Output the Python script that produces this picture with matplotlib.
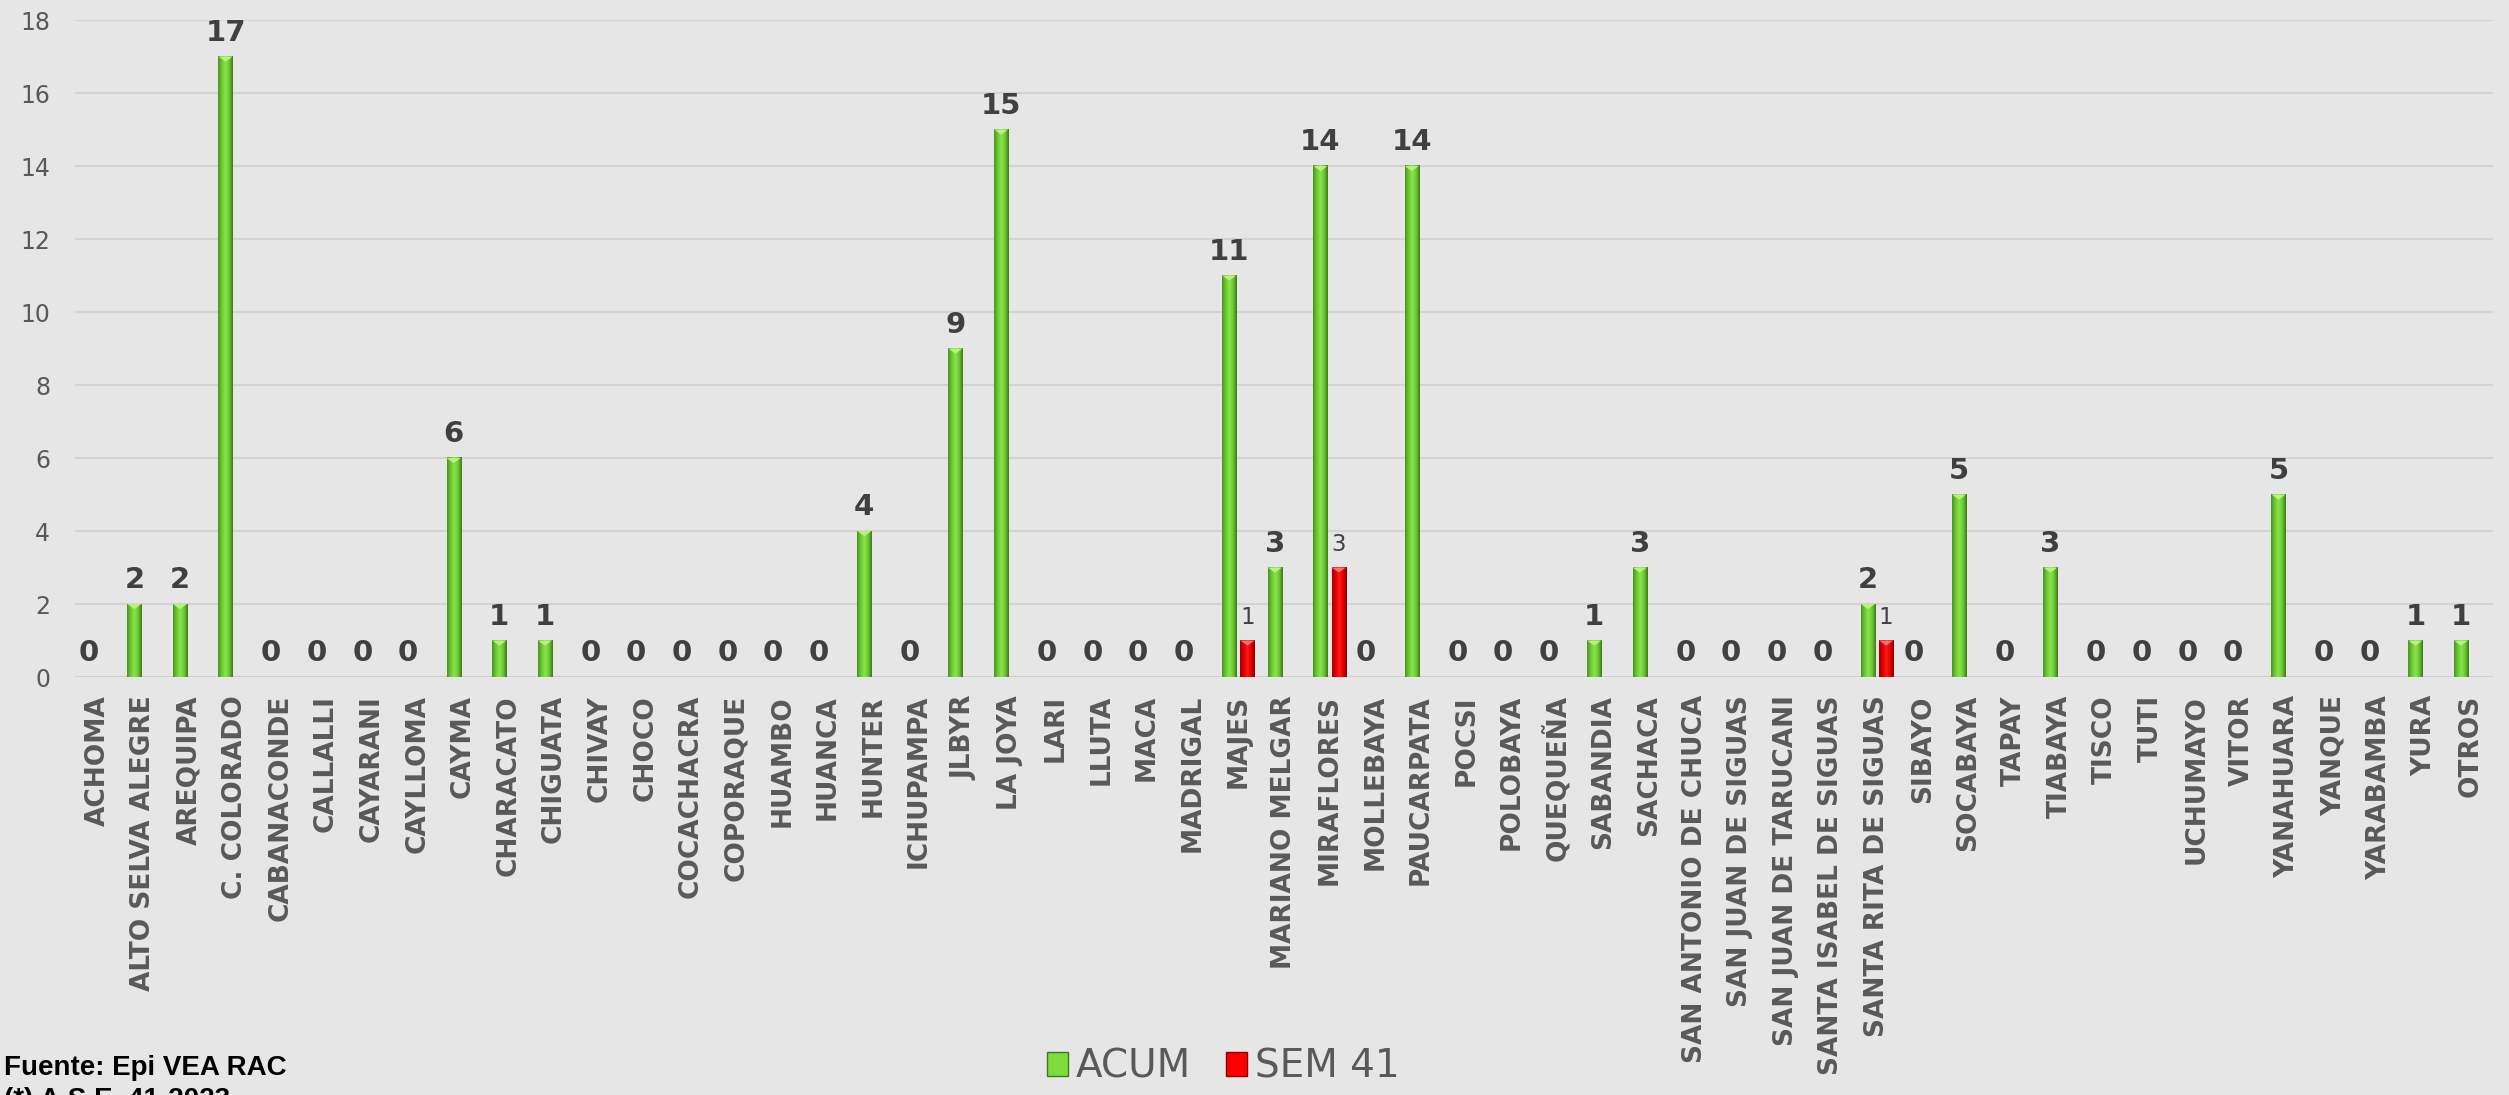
import numpy as np
import matplotlib.pyplot as plt
from matplotlib.colors import LinearSegmentedColormap
from matplotlib.patches import Patch, Polygon

distritos = ["ACHOMA", "ALTO SELVA ALEGRE", "AREQUIPA", "C. COLORADO", "CABANACONDE",
             "CALLALLI", "CAYARANI", "CAYLLOMA", "CAYMA", "CHARACATO", "CHIGUATA",
             "CHIVAY", "CHOCO", "COCACHACRA", "COPORAQUE", "HUAMBO", "HUANCA", "HUNTER",
             "ICHUPAMPA", "JLBYR", "LA JOYA", "LARI", "LLUTA", "MACA", "MADRIGAL", "MAJES",
             "MARIANO MELGAR", "MIRAFLORES", "MOLLEBAYA", "PAUCARPATA", "POCSI", "POLOBAYA",
             "QUEQUEÑA", "SABANDIA", "SACHACA", "SAN ANTONIO DE CHUCA", "SAN JUAN DE SIGUAS",
             "SAN JUAN DE TARUCANI", "SANTA ISABEL DE SIGUAS", "SANTA RITA DE SIGUAS",
             "SIBAYO", "SOCABAYA", "TAPAY", "TIABAYA", "TISCO", "TUTI", "UCHUMAYO", "VITOR",
             "YANAHUARA", "YANQUE", "YARABAMBA", "YURA", "OTROS"]
acum = [0, 2, 2, 17, 0, 0, 0, 0, 6, 1, 1, 0, 0, 0, 0, 0, 0, 4, 0, 9, 15, 0, 0, 0, 0, 11,
        3, 14, 0, 14, 0, 0, 0, 1, 3, 0, 0, 0, 0, 2, 0, 5, 0, 3, 0, 0, 0, 0, 5, 0, 0, 1, 1]
sem41 = [0] * 25 + [1, 0, 3] + [0] * 11 + [1] + [0] * 13

bg = '#e6e6e6'
gris = '#595959'
verde = LinearSegmentedColormap.from_list('verde', ['#4a9420', '#6cc834', '#88e548', '#6cc834', '#3d7a18'])
rojo = LinearSegmentedColormap.from_list('rojo', ['#a00000', '#e40000', '#ff1a1a', '#e40000', '#8c0000'])

fig = plt.figure(figsize=(25.09, 10.95), dpi=100)
fig.patch.set_facecolor(bg)
ax = fig.add_axes([0.0299, 0.3817, 0.9637, 0.6])
ax.set_facecolor(bg)

x = np.arange(len(distritos))
w = 0.31
grad = np.linspace(0, 1, 64).reshape(1, -1)


def barra_3d(xc, h, cmap, punta):
    # cylinder-like bar: horizontal gradient plus a small lighter notch on top
    if h <= 0:
        return
    x0, x1 = xc - w / 2, xc + w / 2
    ax.imshow(grad, extent=[x0, x1, 0, h], aspect='auto', cmap=cmap, zorder=3)
    ax.add_patch(Polygon([[x0, h], [x1, h], [xc, h - 0.14]], closed=True,
                         facecolor=punta, edgecolor='none', zorder=4))


for i in range(len(distritos)):
    barra_3d(x[i] - 0.2, acum[i], verde, '#b8f27c')
    barra_3d(x[i] + 0.2, sem41[i], rojo, '#ff7070')
    ax.annotate(str(acum[i]), (x[i] - 0.2, acum[i]), xytext=(0, 11.5),
                textcoords='offset points', ha='center', va='baseline',
                fontsize=21, fontweight='bold', color='#404040')
    if sem41[i] > 0:
        ax.annotate(str(sem41[i]), (x[i] + 0.2, sem41[i]), xytext=(0, 12),
                    textcoords='offset points', ha='center', va='baseline',
                    fontsize=16.5, color='#404040')

ax.set_xlim(-0.5, len(distritos) - 0.5)
ax.set_ylim(0, 18)
ax.set_yticks(range(0, 19, 2))
ax.yaxis.grid(True, color='#d3d3d3', linewidth=1.5)
ax.set_axisbelow(True)
for s in ax.spines.values():
    s.set_visible(False)
ax.axhline(0, color='#d0d0d0', linewidth=1.5, zorder=2)

ax.set_xticks(x)
ax.set_xticklabels(distritos, rotation=90, fontsize=19, fontweight='bold', color=gris)
ax.tick_params(axis='x', length=0, pad=13)
ax.tick_params(axis='y', length=0, pad=18, labelsize=17, labelcolor=gris)

handles = [Patch(facecolor='#7ddc3c', edgecolor='#3d7a18', label='ACUM'),
           Patch(facecolor='#ff0000', edgecolor='#8c0000', label='SEM 41')]
fig.legend(handles=handles, loc='center', bbox_to_anchor=(0.4875, 0.0256), ncol=2,
           frameon=False, fontsize=28, handlelength=0.55, handleheight=0.55,
           handletextpad=0.2, columnspacing=0.9, labelcolor=gris)

fig.text(0.0015, 0.0183, 'Fuente: Epi VEA RAC', family='Liberation Sans',
         fontweight='bold', fontsize=20, color='black')
fig.text(0.0015, -0.011, '(*) A.S.E. 41-2023', family='Liberation Sans',
         fontweight='bold', fontsize=20, color='black')

fig.savefig('out.png', dpi=100, facecolor=bg)
